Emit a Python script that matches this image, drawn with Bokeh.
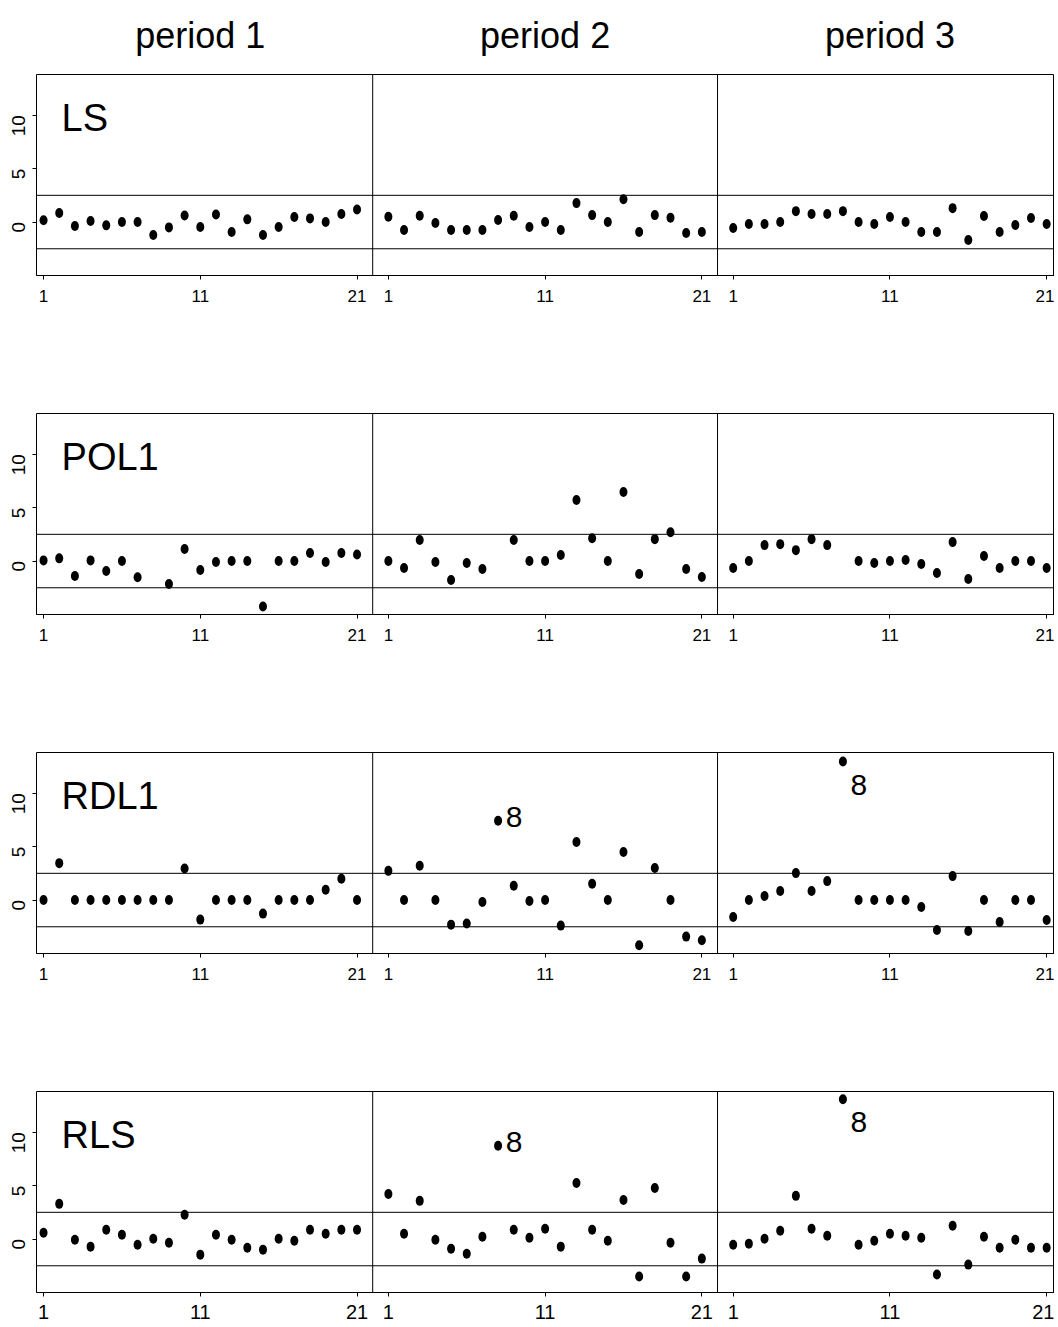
import numpy as np
from bokeh.plotting import figure
from bokeh.layouts import column
from bokeh.models import Range1d, Span, FixedTicker
from bokeh.core.properties import value
from bokeh.embed import file_html
from bokeh.resources import INLINE

nan = float("nan")

methods = ["LS", "POL1", "RDL1", "RLS"]
periods = ["period 1", "period 2", "period 3"]
n_obs = 21
x_tick_labels = [1, 11, 21]
y_ticks = [0, 5, 10]
limits = [-2.5, 2.5]

ls_p1 = [0.16, 0.84, -0.37, 0.09, -0.31, 0.0, 0.0, -1.21, -0.5, 0.62, -0.47, 0.71, -0.93, 0.25, -1.21, -0.47, 0.47, 0.34, 0.0, 0.75, 1.18]
ls_p2 = [0.5, -0.75, 0.59, -0.09, -0.75, -0.75, -0.75, 0.19, 0.59, -0.47, 0.0, -0.75, 1.77, 0.65, 0.0, 2.14, -0.93, 0.65, 0.4, -1.02, -0.93]
ls_p3 = [-0.56, -0.19, -0.19, 0.0, 1.02, 0.75, 0.75, 1.02, 0.0, -0.19, 0.47, 0.0, -0.93, -0.93, 1.3, -1.68, 0.56, -0.93, -0.28, 0.37, -0.19]

pol1_p1 = [0.06, 0.25, -1.4, 0.06, -0.93, 0.0, -1.52, nan, -2.14, 1.12, -0.84, -0.09, 0.0, 0.0, -4.25, 0.0, 0.0, 0.75, -0.09, 0.75, 0.62]
pol1_p2 = [0.0, -0.65, 1.96, -0.09, -1.77, -0.19, -0.75, nan, 1.96, 0.0, 0.0, 0.56, 5.71, 2.14, 0.0, 6.46, -1.21, 2.05, 2.7, -0.75, -1.49]
pol1_p3 = [-0.65, 0.0, 1.49, 1.58, 1.02, 2.05, 1.49, nan, 0.0, -0.19, 0.0, 0.09, -0.28, -1.12, 1.77, -1.68, 0.47, -0.65, 0.0, 0.0, -0.65]

rdl1_p1 = [0.0, 3.45, 0.0, 0.0, 0.0, 0.0, 0.0, 0.0, 0.0, 2.95, -1.83, 0.0, 0.0, 0.0, -1.27, 0.0, 0.0, 0.0, 0.96, 1.99, 0.0]
rdl1_p2 = [2.73, 0.0, 3.2, 0.0, -2.3, -2.2, -0.19, 7.42, 1.34, -0.09, 0.0, -2.39, 5.43, 1.52, 0.0, 4.5, -4.22, 3.0, 0.0, -3.42, -3.76]
rdl1_p3 = [-1.58, 0.0, 0.37, 0.84, 2.52, 0.84, 1.77, 12.95, 0.0, 0.0, 0.0, 0.0, -0.65, -2.8, 2.24, -2.89, 0.0, -2.05, 0.0, 0.0, -1.86]

rls_p1 = [0.59, 3.29, -0.06, -0.71, 0.87, 0.4, -0.53, 0.03, -0.34, 2.27, -1.46, 0.4, -0.06, -0.81, -0.99, 0.03, -0.16, 0.87, 0.5, 0.87, 0.87]
rls_p2 = [4.22, 0.5, 3.57, -0.06, -0.9, -1.37, 0.22, 8.73, 0.87, 0.12, 0.96, -0.71, 5.25, 0.87, -0.16, 3.66, -3.51, 4.78, -0.34, -3.51, -1.83]
rls_p3 = [-0.53, -0.43, 0.03, 0.78, 4.04, 0.96, 0.31, 13.07, -0.53, -0.16, 0.5, 0.31, 0.12, -3.32, 1.24, -2.39, 0.22, -0.81, -0.06, -0.81, -0.81]

series = {
    "LS": [ls_p1, ls_p2, ls_p3],
    "POL1": [pol1_p1, pol1_p2, pol1_p3],
    "RDL1": [rdl1_p1, rdl1_p2, rdl1_p3],
    "RLS": [rls_p1, rls_p2, rls_p3],
}

# ---- layout / style ----
NARROW = "'Liberation Sans Narrow', 'Liberation Sans', Arial, sans-serif"
REGULAR = "'Liberation Sans', Arial, sans-serif"
PANEL = 22           # x-offset between periods
X0, X1 = 0.55, 65.5
Y0, Y1 = -5.0, 13.8
FW = 1018
FH = 201
LEFT = 36
HEAD = 59
outlier_cut = 7
outlier_offsets = {1: (16, -4), 2: (16, 23)}


def x_of(k):
    return [i + 1 + PANEL * k for i in range(n_obs)]


header = figure(x_range=Range1d(X0, X1), y_range=Range1d(0, HEAD),
                frame_width=FW, frame_height=HEAD, min_border_left=LEFT,
                min_border_right=0, min_border_top=0, min_border_bottom=0,
                output_backend="svg", toolbar_location=None, tools="")
header.axis.visible = False
header.grid.visible = False
header.outline_line_color = None
header.text(x=[11 + PANEL * k for k in range(3)], y=[HEAD - 35] * 3, text=periods,
            text_font=value(NARROW), text_font_size="36px",
            text_align="center", text_baseline="middle", text_color="black")

figs = [header]
all_ticks = []
overrides = {}
for k in range(3):
    for t in x_tick_labels:
        all_ticks.append(t + PANEL * k)
        overrides[t + PANEL * k] = str(t)

for r, name in enumerate(methods):
    last = r == len(methods) - 1
    p = figure(x_range=Range1d(X0, X1), y_range=Range1d(Y0, Y1),
               frame_width=FW, frame_height=FH, min_border_left=LEFT,
               min_border_right=0, min_border_top=15,
               min_border_bottom=(32 if last else 123),
               output_backend="svg", toolbar_location=None, tools="")
    p.grid.visible = False
    p.outline_line_color = "black"
    p.outline_line_width = 1
    p.outline_line_alpha = 1.0
    p.background_fill_color = "white"

    for loc in limits:
        p.add_layout(Span(location=loc, dimension="width", line_color="black", line_width=1))
    for loc in (PANEL, 2 * PANEL):
        p.add_layout(Span(location=loc, dimension="height", line_color="black", line_width=1))

    # x axis
    p.xaxis.ticker = FixedTicker(ticks=all_ticks)
    p.xaxis.major_label_overrides = overrides
    p.xaxis.minor_tick_line_color = None
    p.xaxis.major_tick_out = 4
    p.xaxis.major_tick_in = 0
    p.xaxis.axis_line_color = "black"
    p.xaxis.major_label_text_font = NARROW
    p.xaxis.major_label_text_font_size = "20px" if last else "17px"
    p.xaxis.major_label_standoff = 8 if last else 10
    p.xaxis.major_label_text_color = "black"

    # y axis
    p.yaxis.ticker = FixedTicker(ticks=y_ticks)
    p.yaxis.minor_tick_line_color = None
    p.yaxis.major_tick_out = 4
    p.yaxis.major_tick_in = 0
    p.yaxis.axis_line_color = None
    p.yaxis.major_label_orientation = np.pi / 2
    p.yaxis.major_label_text_font = REGULAR
    p.yaxis.major_label_text_font_size = "19px"
    p.yaxis.major_label_standoff = 14
    p.yaxis.major_label_text_color = "black"

    for k in range(3):
        ys = series[name][k]
        xs = x_of(k)
        p.ellipse(x=xs, y=ys, width=8, height=10, width_units="screen",
                  height_units="screen", fill_color="black", line_color=None)
        for i, v in enumerate(ys):
            if v == v and v > outlier_cut:
                dx, dy = outlier_offsets[k]
                p.text(x=[xs[i]], y=[v], text=[str(i + 1)], x_offset=dx, y_offset=dy,
                       text_font=value(NARROW), text_font_size="30px",
                       text_align="center", text_baseline="middle", text_color="black")

    p.text(x=[2.15], y=[9.75], text=[name], text_font=value(NARROW),
           text_font_size="38px", text_align="left", text_baseline="alphabetic",
           text_color="black")
    figs.append(p)

layout = column(*figs, spacing=0)
open("out.html", "w").write(file_html(layout, INLINE))
